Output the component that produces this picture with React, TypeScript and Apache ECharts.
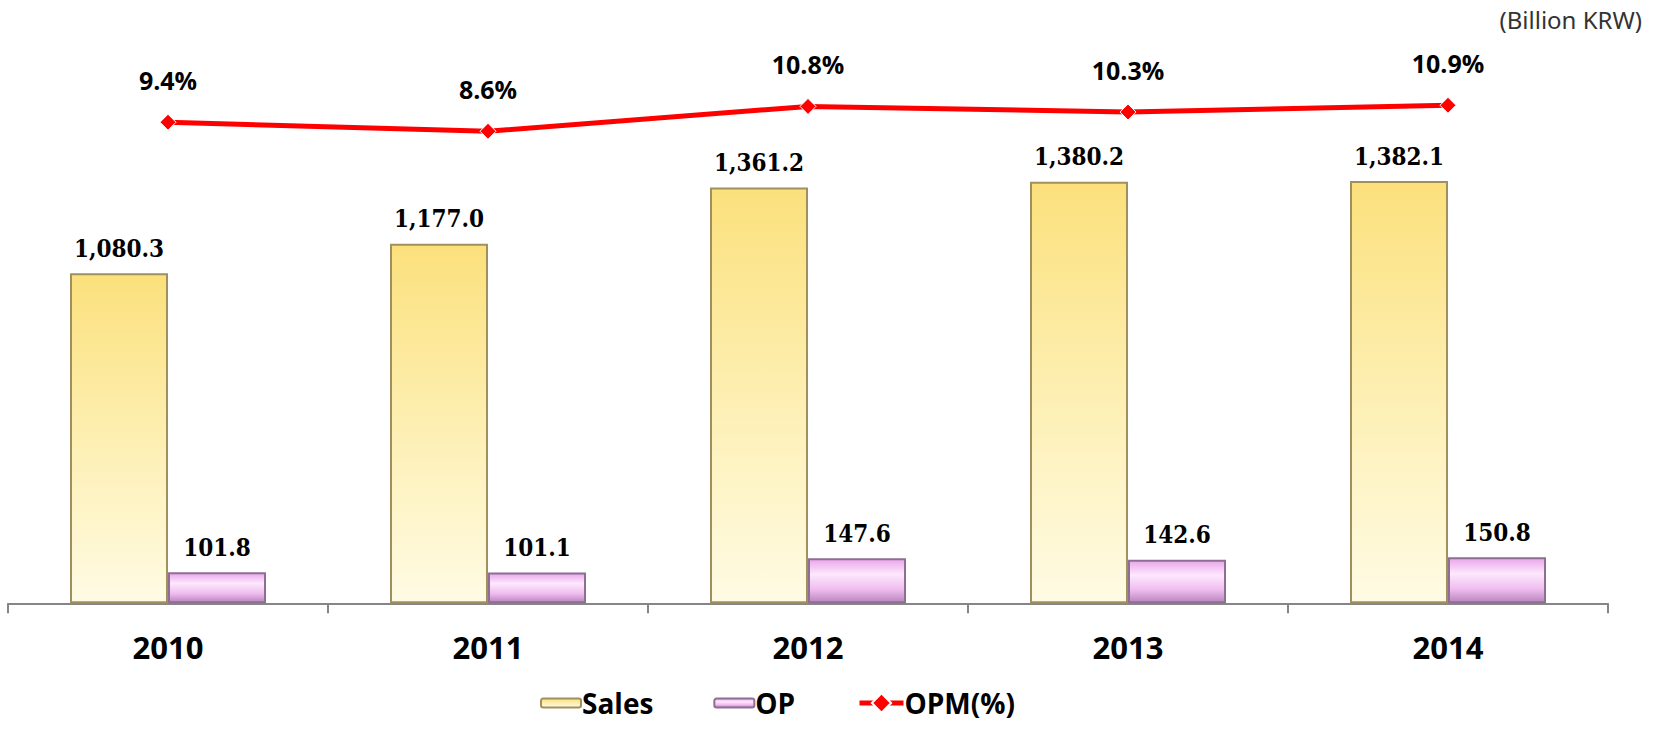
import React, { useEffect, useRef } from "react";
import * as echarts from "echarts";

const categories = ["2010", "2011", "2012", "2013", "2014"];
const salesValues = [1080.3, 1177.0, 1361.2, 1380.2, 1382.1];
const opValues = [101.8, 101.1, 147.6, 142.6, 150.8];
const opmValues = [9.4, 8.6, 10.8, 10.3, 10.9];
const unitLabel = "(Billion KRW)";

const fmtAmount = (v: number) =>
  v.toLocaleString("en-US", { minimumFractionDigits: 1, maximumFractionDigits: 1 });

export default function App() {
  const ref = useRef<HTMLDivElement>(null);
  useEffect(() => {
    if (!ref.current) return;
    const chart = echarts.init(ref.current, null, { renderer: "svg" });
    const serifLabel = {
      show: true,
      position: "top" as const,
      distance: 13,
      color: "#000",
      fontSize: 24,
      fontWeight: "bold" as const,
      fontFamily: '"DejaVu Serif Condensed", "Liberation Serif", serif',
      formatter: (p: any) => fmtAmount(p.value),
    };
    const legendText = {
      fontSize: 28,
      fontWeight: "bold" as const,
      color: "#000",
      fontFamily: '"Open Sans", sans-serif',
      padding: [0, 0, 0, -4],
    };
    chart.setOption({
      animation: false,
      backgroundColor: "#ffffff",
      title: {
        text: unitLabel,
        right: 14,
        top: 2,
        textStyle: {
          fontSize: 24,
          fontWeight: "normal",
          color: "#333",
          fontFamily: '"Noto Sans", "Open Sans", sans-serif',
        },
      },
      legend: [
        {
          left: 535,
          top: 684,
          itemWidth: 40,
          itemHeight: 9,
          itemGap: 60,
          textStyle: legendText,
          data: ["Sales", "OP"],
        },
        {
          left: 852,
          top: 684,
          itemWidth: 44,
          itemHeight: 24,
          lineStyle: { width: 5, color: "#ff0000" },
          textStyle: legendText,
          data: ["OPM(%)"],
        },
      ],
      grid: { left: 8, right: 53, top: 53.4, bottom: 127.7 },
      xAxis: {
        type: "category",
        data: categories,
        axisLine: { show: true, lineStyle: { color: "#868686", width: 2 } },
        axisTick: {
          show: true,
          alignWithLabel: false,
          interval: 0,
          length: 10,
          lineStyle: { color: "#868686", width: 2 },
        },
        axisLabel: {
          margin: 28,
          fontSize: 31,
          fontWeight: "bold",
          color: "#000",
          fontFamily: '"Open Sans", sans-serif',
        },
      },
      yAxis: [
        { type: "value", min: 0, max: 1800, show: false, splitLine: { show: false } },
        { type: "value", min: -33.17, max: 15.49, show: false, splitLine: { show: false } },
      ],
      series: [
        {
          name: "Sales",
          type: "bar",
          data: salesValues,
          barWidth: 98,
          barGap: "0%",
          itemStyle: {
            color: new echarts.graphic.LinearGradient(0, 0, 0, 1, [
              { offset: 0, color: "#fbe07c" },
              { offset: 0.5, color: "#fdefb2" },
              { offset: 1, color: "#fffbe4" },
            ]),
            borderColor: "#a0905e",
            borderWidth: 2,
          },
          label: serifLabel,
        },
        {
          name: "OP",
          type: "bar",
          data: opValues,
          barWidth: 98,
          itemStyle: {
            color: new echarts.graphic.LinearGradient(0, 0, 0, 1, [
              { offset: 0, color: "#e9a6ea" },
              { offset: 0.35, color: "#fde8fd" },
              { offset: 0.7, color: "#efbcef" },
              { offset: 1, color: "#b886bc" },
            ]),
            borderColor: "#8e6f93",
            borderWidth: 2,
          },
          label: serifLabel,
        },
        {
          name: "OPM(%)",
          type: "line",
          yAxisIndex: 1,
          data: opmValues,
          clip: false,
          symbol: "diamond",
          symbolSize: 16,
          lineStyle: { color: "#ff0000", width: 5 },
          itemStyle: { color: "#ff0000", borderColor: "#ffffff", borderWidth: 1 },
          label: {
            show: true,
            position: "top",
            distance: 21,
            color: "#000",
            fontSize: 25,
            fontWeight: "bold",
            fontFamily: '"Open Sans", sans-serif',
            formatter: (p: any) => p.value.toFixed(1) + "%",
          },
        },
      ],
    });
    return () => chart.dispose();
  }, []);
  return (
    <div
      ref={ref}
      style={{ position: "absolute", left: 0, top: 0, width: 1661, height: 731 }}
    />
  );
}
